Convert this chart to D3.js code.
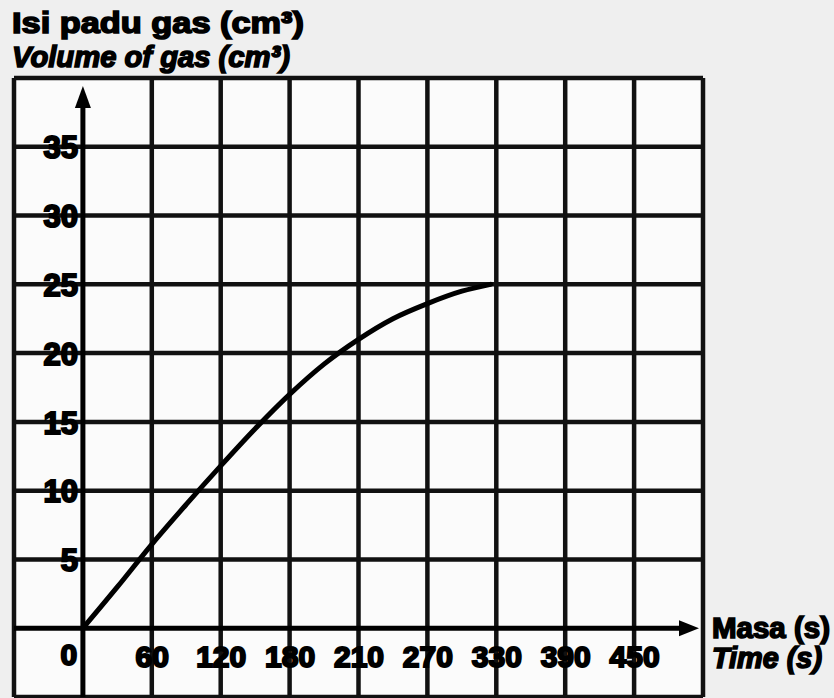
<!DOCTYPE html>
<html>
<head>
<meta charset="utf-8">
<script src="https://cdn.jsdelivr.net/npm/d3@7"></script>
<style>
  body { margin: 0; background: #efefef; }
  svg text { font-family: "Liberation Sans", Arial, sans-serif; font-weight: bold; }
</style>
</head>
<body>
<svg id="chart" width="834" height="698"></svg>
<script>
const width = 834, height = 698;

// curve (time s, volume cm3)
var times   = [0, 30, 60, 90, 120, 150, 180, 210, 240, 270, 300, 330, 355];
var volumes = [0, 3.0, 6.1, 9.0, 11.8, 14.5, 17.0, 19.2, 21.0, 22.5, 23.6, 24.5, 25.0];

// tick labels as printed
var xTickValues = [60, 120, 180, 240, 300, 360, 420, 480];
var xTickLabels = ["60", "120", "180", "210", "270", "330", "390", "450"];
var yTickValues = [5, 10, 15, 20, 25, 30, 35];

var x = d3.scaleLinear().domain([-60, 540]).range([14, 703]);
var y = d3.scaleLinear().domain([-5, 40]).range([697, 78]);

var svg = d3.select("#chart");

// paper of the grid
svg.append("rect")
  .attr("x", x(-60)).attr("y", y(40))
  .attr("width", x(540) - x(-60)).attr("height", y(-5) - y(40))
  .attr("fill", "#fbfbfb");

var grid = svg.append("g").attr("stroke", "#111").attr("stroke-width", 4.5);

grid.selectAll(".vl")
  .data(d3.range(-60, 541, 60).filter(function(d) { return d !== 0; }))
  .enter().append("line")
  .attr("x1", function(d) { return x(d); }).attr("x2", function(d) { return x(d); })
  .attr("y1", y(40)).attr("y2", y(-5));

grid.selectAll(".hl")
  .data(d3.range(-5, 41, 5).filter(function(d) { return d !== 0; }))
  .enter().append("line")
  .attr("y1", function(d) { return y(d); }).attr("y2", function(d) { return y(d); })
  .attr("x1", x(-60)).attr("x2", x(540));

// axes with arrows
var axes = svg.append("g").attr("stroke", "#000").attr("stroke-width", 5);
axes.append("line")
  .attr("x1", x(0)).attr("x2", x(0))
  .attr("y1", y(-5)).attr("y2", y(38.6));
axes.append("line")
  .attr("x1", x(-60)).attr("x2", x(520))
  .attr("y1", y(0)).attr("y2", y(0));

svg.append("path")
  .attr("d", "M" + x(0) + "," + (y(40) + 8) + " l-8,22 l16,0 z")
  .attr("fill", "#000");
svg.append("path")
  .attr("d", "M" + (x(540) - 4) + "," + y(0) + " l-20,-8 l0,16 z")
  .attr("fill", "#000");

// curve
var line = d3.line()
  .x(function(d, i) { return x(times[i]); })
  .y(function(d) { return y(d); })
  .curve(d3.curveMonotoneX);

svg.append("path")
  .attr("d", line(volumes))
  .attr("fill", "none")
  .attr("stroke", "#000")
  .attr("stroke-width", 5)
  .attr("stroke-linecap", "round");

// tick labels
var yAxis = d3.axisLeft(y).tickValues(yTickValues).tickSize(0).tickPadding(0);
var gy = svg.append("g")
  .attr("transform", "translate(" + (x(0) - 5) + ",0)")
  .call(yAxis);
gy.select(".domain").remove();
gy.selectAll("text")
  .attr("font-size", 31).attr("fill", "#000")
  .attr("stroke", "#000").attr("stroke-width", 2)
  .attr("dy", "0.36em");

var xAxis = d3.axisBottom(x).tickValues(xTickValues).tickSize(0).tickPadding(0)
  .tickFormat(function(d, i) { return xTickLabels[i]; });
var gx = svg.append("g")
  .attr("transform", "translate(0," + (y(0) + 17) + ")")
  .call(xAxis);
gx.select(".domain").remove();
gx.selectAll("text")
  .attr("font-size", 30).attr("fill", "#000")
  .attr("stroke", "#000").attr("stroke-width", 2)
  .attr("dy", "0.72em");

svg.append("text")
  .attr("x", x(0) - 14).attr("y", y(0) + 37)
  .attr("text-anchor", "middle")
  .attr("font-size", 30).attr("stroke", "#000").attr("stroke-width", 2)
  .text("0");

// titles
svg.append("text")
  .attr("x", 12).attr("y", 33)
  .attr("font-size", 30).attr("stroke", "#000").attr("stroke-width", 1.6)
  .attr("textLength", 292).attr("lengthAdjust", "spacingAndGlyphs")
  .text("Isi padu gas (cm³)");
svg.append("text")
  .attr("x", 12).attr("y", 67)
  .attr("font-size", 30).attr("font-style", "italic")
  .attr("stroke", "#000").attr("stroke-width", 1.6)
  .attr("textLength", 278).attr("lengthAdjust", "spacingAndGlyphs")
  .text("Volume of gas (cm³)");

svg.append("text")
  .attr("x", 712).attr("y", 638)
  .attr("font-size", 29).attr("stroke", "#000").attr("stroke-width", 1.6)
  .attr("textLength", 118).attr("lengthAdjust", "spacingAndGlyphs")
  .text("Masa (s)");
svg.append("text")
  .attr("x", 712).attr("y", 668)
  .attr("font-size", 29).attr("font-style", "italic")
  .attr("stroke", "#000").attr("stroke-width", 1.6)
  .attr("textLength", 110).attr("lengthAdjust", "spacingAndGlyphs")
  .text("Time (s)");
</script>
</body>
</html>
